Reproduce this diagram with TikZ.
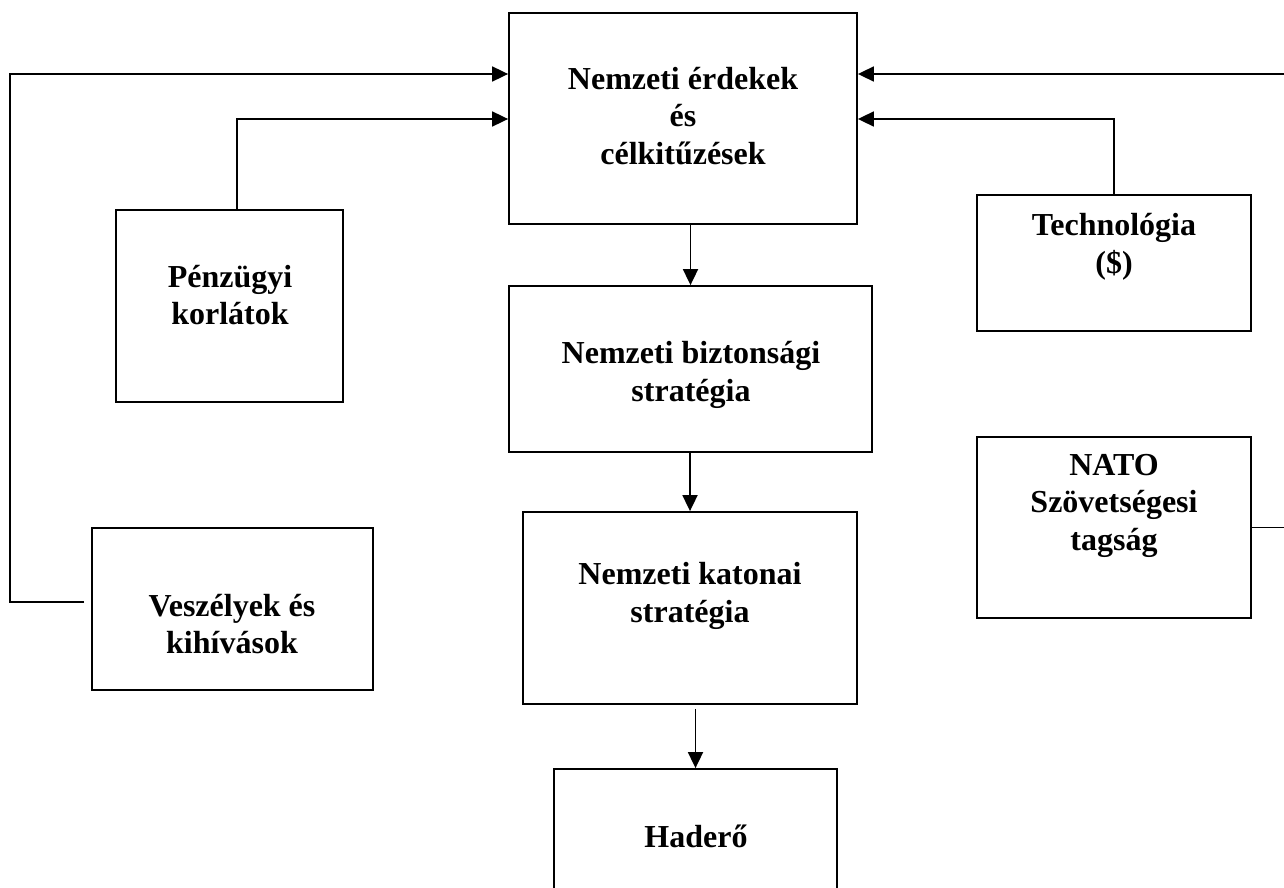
\documentclass[tikz,border=0pt]{standalone}
\usepackage{fontspec}
\setmainfont{Liberation Serif}
\usetikzlibrary{arrows.meta}
\begin{document}
\begin{tikzpicture}[x=1pt,y=-1pt,
  box/.style={draw=black, line width=1.8pt, rectangle, inner sep=0pt},
  lbl/.style={font=\fontsize{32}{37.5}\selectfont\bfseries, align=center, inner sep=0pt},
  link/.style={draw=black, line width=1.8pt},
  arr/.style={link, -{Triangle[length=16pt,width=15pt]}}]
\useasboundingbox (0,0) rectangle (1284,888);

% boxes
\node[box, minimum width=348pt, minimum height=211pt] (top)  at (683,118.5) {};
\node[box, minimum width=363pt, minimum height=166pt] (biz)  at (690.5,369) {};
\node[box, minimum width=334pt, minimum height=192pt] (kat)  at (690,608) {};
\node[box, minimum width=283pt, minimum height=132pt] (had)  at (695.5,835) {};
\node[box, minimum width=227pt, minimum height=192pt] (penz) at (229.5,306) {};
\node[box, minimum width=274pt, minimum height=136pt] (tech) at (1114,263) {};
\node[box, minimum width=274pt, minimum height=181pt] (nato) at (1114,527.5) {};
\node[box, minimum width=281pt, minimum height=162pt] (vesz) at (232.5,609) {};

% texts
\node[lbl] (ttop)  at (683,116)    {Nemzeti érdekek\\és\\célkitűzések};
\node[lbl] (tbiz)  at (691,375)    {Nemzeti biztonsági\\stratégia};
\node[lbl] (tkat)  at (690,596)    {Nemzeti katonai\\stratégia};
\node[lbl] (thad)  at (696,836)    {Haderő};
\node[lbl] (tpenz) at (230,295)    {Pénzügyi\\korlátok};
\node[lbl] (ttech) at (1114,247)   {Technológia\\(\$)};
\node[lbl] (tnato) at (1114,505.5) {NATO\\Szövetségesi\\tagság};
\node[lbl] (tvesz) at (232,624)    {Veszélyek és\\kihívások};

% corner points of the feedback lines
\coordinate (lc)  at (10,74);
\coordinate (pc)  at (237,119);
\coordinate (rc)  at (1292,74);
\coordinate (tc)  at (1114,119);

% feedback into the top box
\draw[arr] ([shift={(-7,-7)}]vesz.west) -| (lc) -- (top.west |- lc);
\draw[arr] (penz.north -| pc) |- (top.west |- pc);
\draw[arr] (nato.east) -| (rc) -- (top.east |- rc);
\draw[arr] (tech.north) |- (top.east |- tc);

% main chain
\draw[arr] (biz.north |- top.south) -- (biz.north);
\draw[arr] (kat.north |- biz.south) -- (kat.north);
\draw[arr] ([yshift=-4pt]kat.south -| had.north) -- (had.north);
\end{tikzpicture}
\end{document}
